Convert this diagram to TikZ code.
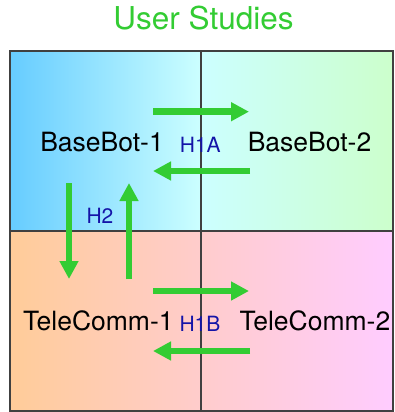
\documentclass[tikz,border=0pt]{standalone}
\usepackage{fontspec}
\setmainfont{TeX Gyre Heros}
\usetikzlibrary{arrows.meta}
\definecolor{grn}{HTML}{33CC33}
\definecolor{hblue}{HTML}{1414A8}
\definecolor{tlL}{HTML}{66CCFF}
\definecolor{tlR}{HTML}{CCFFFF}
\definecolor{trL}{HTML}{CCFFFF}
\definecolor{trR}{HTML}{CCFFCC}
\definecolor{blL}{HTML}{FFCC99}
\definecolor{blR}{HTML}{FFCCCC}
\definecolor{brL}{HTML}{FFCCCC}
\definecolor{brR}{HTML}{FFCCFF}
\tikzset{
  lbl/.style={inner sep=0pt, anchor=base, font=\fontsize{26.5}{31}\selectfont, text=black},
  hlbl/.style={inner sep=0pt, anchor=base, font=\fontsize{21}{25}\selectfont, text=hblue},
  ttl/.style={inner sep=0pt, anchor=base, font=\fontsize{31.5}{37}\selectfont, text=grn},
  garrow/.style={draw=grn, line width=6.7pt, -{Triangle[width=18pt,length=18pt]}},
  frame/.style={draw=black!75, line width=1.3pt}
}
\begin{document}
\begin{tikzpicture}[x=1pt,y=-1pt]
\useasboundingbox (0,0) rectangle (395,412);
\shade[left color=tlL, right color=tlR] (10,51) rectangle (201,231);
\shade[left color=trL, right color=trR] (201,51) rectangle (393,231);
\shade[left color=blL, right color=blR] (10,231) rectangle (201,411);
\shade[left color=brL, right color=brR] (201,231) rectangle (393,411);
\draw[frame] (10,51) rectangle (393,411);
\draw[frame] (201,51) -- (201,411);
\draw[frame] (10,231) -- (393,231);

\node[ttl] (title) at (203.5,29.3) {User Studies};
\node[lbl] (bb1) at (102,151) {BaseBot-1};
\node[lbl] (bb2) at (309.5,151) {BaseBot-2};
\node[lbl] (tc1) at (98.3,330) {TeleComm-1};
\node[lbl] (tc2) at (315,330) {TeleComm-2};
\node[hlbl] (h1a) at (200.3,152.7) {H1A};
\node[hlbl] (h1b) at (200,331.7) {H1B};
\node[hlbl] (h2) at (100,223) {H2};

\coordinate (a1s) at (153,111.7); \coordinate (a1e) at (249,111.7);
\coordinate (a2s) at (250,171);   \coordinate (a2e) at (153,171);
\coordinate (a3s) at (69,183);    \coordinate (a3e) at (69,279);
\coordinate (a4s) at (129,279);   \coordinate (a4e) at (129,183);
\coordinate (a5s) at (153,291);   \coordinate (a5e) at (249,291);
\coordinate (a6s) at (250,351);   \coordinate (a6e) at (153,351);

\draw[garrow] (a1s) -- (a1e);
\draw[garrow] (a2s) -- (a2e);
\draw[garrow] (a3s) -- (a3e);
\draw[garrow] (a4s) -- (a4e);
\draw[garrow] (a5s) -- (a5e);
\draw[garrow] (a6s) -- (a6e);
\end{tikzpicture}
\end{document}
